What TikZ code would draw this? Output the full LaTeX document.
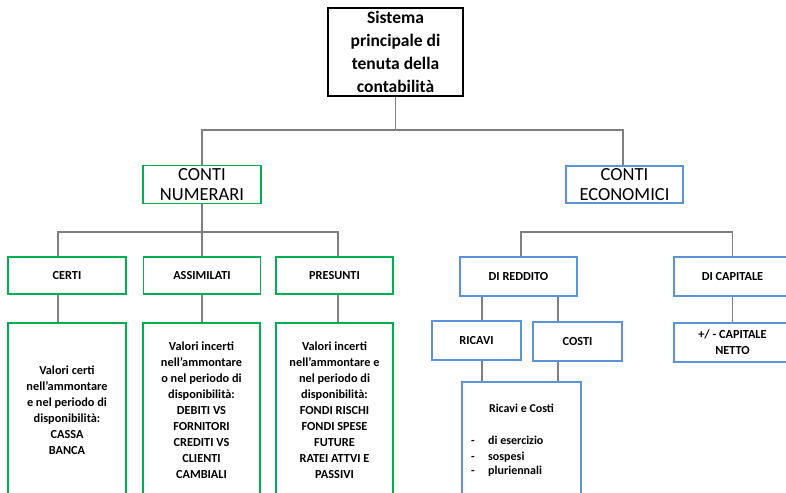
\documentclass[tikz,border=0pt]{standalone}
\usepackage{fontspec}
\setmainfont{Carlito}
\begin{document}
\begin{tikzpicture}[x=1pt,y=-1pt,
  conn/.style={draw=linegray,line width=1.2pt},
  rootbox/.style={draw=black,line width=2.4pt,fill=white,inner sep=0pt,align=center,
    font=\bfseries\fontsize{17.5}{22.8}\selectfont},
  headbox/.style={draw=#1,line width=1.6pt,fill=white,inner sep=0pt,align=center,
    font=\fontsize{18.5}{19.5}\selectfont},
  catbox/.style={draw=#1,line width=1.6pt,fill=white,inner sep=0pt,align=center,
    font=\bfseries\fontsize{12.3}{16}\selectfont},
  descbox/.style={draw=#1,line width=1.6pt,fill=white,inner sep=0pt,align=center,
    font=\bfseries\fontsize{12.3}{16}\selectfont},
]
\definecolor{linegray}{HTML}{7F7F7F}
\definecolor{numgreen}{HTML}{00B050}
\definecolor{ecoblue}{HTML}{5B93D8}

\clip (0,0) rectangle (786,492);
\fill[white] (0,0) rectangle (786,492);

% root
\node[rootbox,minimum width=135pt,minimum height=88pt] (root) at (395.5,52)
  {Sistema\\principale di\\tenuta della\\contabilità};

% two main branches
\node[headbox=numgreen,minimum width=118pt,minimum height=38pt] (cn) at (202,184.5)
  {CONTI\\NUMERARI};
\node[headbox=ecoblue,minimum width=117pt,minimum height=37pt] (ce) at (624.5,184.5)
  {CONTI\\ECONOMICI};

% numerari categories
\node[catbox=numgreen,minimum width=118pt,minimum height=37pt] (certi) at (67,275.5) {CERTI};
\node[catbox=numgreen,minimum width=117pt,minimum height=37pt] (assim) at (202,275.5) {ASSIMILATI};
\node[catbox=numgreen,minimum width=117pt,minimum height=37pt] (pres) at (334.5,275.5) {PRESUNTI};

% numerari descriptions
\node[descbox=numgreen,minimum width=118pt,minimum height=175pt] (dcerti) at (67,410.5)
  {Valori certi\\nell’ammontare\\e nel periodo di\\disponibilità:\\CASSA\\BANCA};
\node[descbox=numgreen,minimum width=117pt,minimum height=175pt] (dassim) at (201.5,410.5)
  {Valori incerti\\nell’ammontare\\o nel periodo di\\disponibilità:\\DEBITI VS\\FORNITORI\\CREDITI VS\\CLIENTI\\CAMBIALI};
\node[descbox=numgreen,minimum width=117pt,minimum height=175pt] (dpres) at (334.5,410.5)
  {Valori incerti\\nell’ammontare e\\nel periodo di\\disponibilità:\\FONDI RISCHI\\FONDI SPESE\\FUTURE\\RATEI ATTVI E\\PASSIVI};

% economici categories
\node[catbox=ecoblue,minimum width=117pt,minimum height=39pt] (redd) at (518.5,276.5) {DI REDDITO};
\node[catbox=ecoblue,minimum width=117pt,minimum height=39pt] (capit) at (732.5,276.5) {DI CAPITALE};
\node[catbox=ecoblue,minimum width=89pt,minimum height=39pt] (ricavi) at (476.5,340.5) {RICAVI};
\node[catbox=ecoblue,minimum width=89pt,minimum height=39pt] (costi) at (577.5,341.5) {COSTI};
\node[catbox=ecoblue,minimum width=117pt,minimum height=39pt] (netto) at (732.5,342.5)
  {+/ - CAPITALE\\NETTO};
\node[draw=ecoblue,line width=1.6pt,fill=white,minimum width=119pt,minimum height=116pt,inner sep=0pt]
  (rc) at (521.5,440) {};
\node[font=\bfseries\fontsize{12}{15}\selectfont,inner sep=0pt] (rctitle) at (521.5,408) {Ricavi e Costi};
\node[font=\bfseries\fontsize{12}{15}\selectfont,inner sep=0pt,anchor=north west,align=left] (rclist)
  at (471,434) {%
  \begin{tabular}{@{}p{17pt}@{}l@{}}
  - & di esercizio\\[1pt]
  - & sospesi\\[-1pt]
  - & pluriennali
  \end{tabular}};

% bus levels and connector columns
\coordinate (busA) at (0,130);
\coordinate (busB) at (0,232);
\coordinate (xcerti) at (58,0);
\coordinate (xpres) at (338,0);
\coordinate (xredd) at (521,0);
\coordinate (xce) at (623,0);
\coordinate (xric) at (482,0);
\coordinate (xcos) at (558,0);

% connectors
\draw[conn] (root.south) -- (root.south |- busA);
\draw[conn] (cn.north) |- (root.south |- busA) -| (ce.north -| xce);

\draw[conn] (cn.south) -- (assim.north);
\draw[conn] (certi.north -| xcerti) |- (cn.south |- busB) -| (pres.north -| xpres);

\draw[conn] (certi.south -| xcerti) -- (dcerti.north -| xcerti);
\draw[conn] (assim.south) -- (dassim.north -| assim.south);
\draw[conn] (pres.south -| xpres) -- (dpres.north -| xpres);

\draw[conn] (ce.south -| xce) -- (ce.south -| xce |- busB);
\draw[conn] (redd.north -| xredd) |- (xce |- busB) -| (capit.north);

\draw[conn] (redd.south -| xric) -- (ricavi.north -| xric);
\draw[conn] (redd.south -| xcos) -- (costi.north -| xcos);
\draw[conn] (capit.south) -- (netto.north);
\draw[conn] (ricavi.south -| xric) -- (rc.north -| xric);
\draw[conn] (costi.south -| xcos) -- (rc.north -| xcos);
\end{tikzpicture}
\end{document}
